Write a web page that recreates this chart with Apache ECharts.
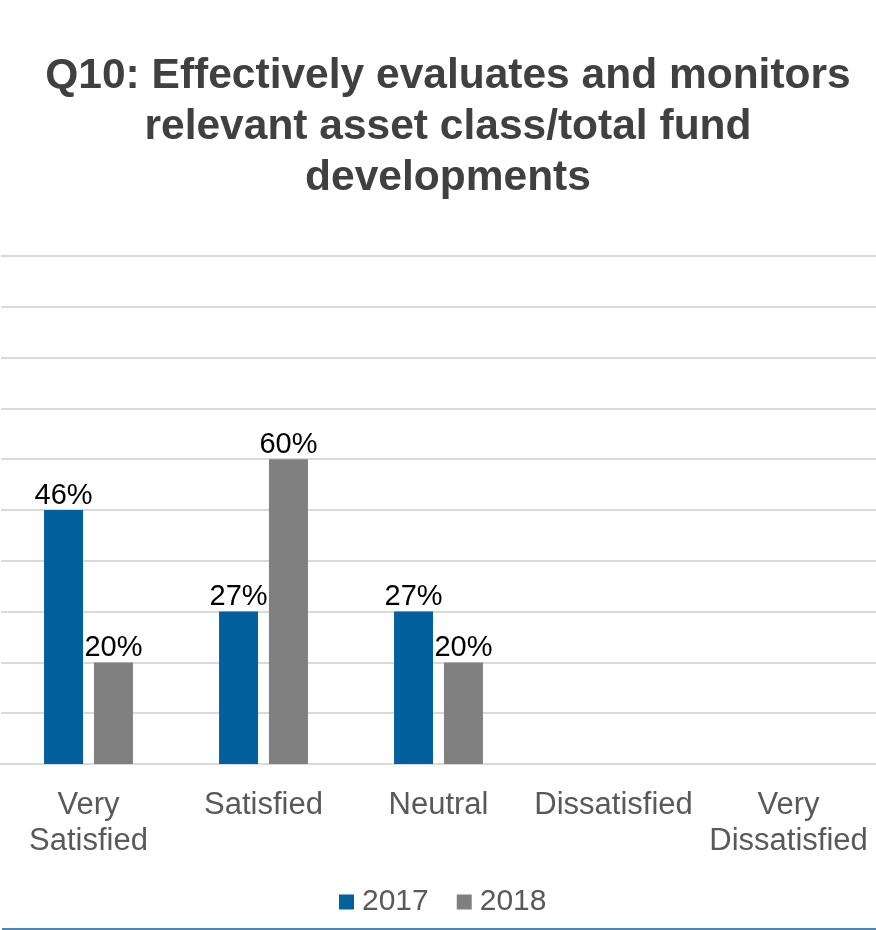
<!DOCTYPE html>
<html>
<head>
<meta charset="utf-8">
<script src="https://cdn.jsdelivr.net/npm/echarts@6/dist/echarts.min.js"></script>
<style>
html,body{margin:0;padding:0;background:#fff;}
#chart{width:876px;height:930px;}
</style>
</head>
<body>
<div id="chart"></div>
<script>
const titleText = 'Q10: Effectively evaluates and monitors\nrelevant asset class/total fund\ndevelopments';
const categories = ['Very\nSatisfied', 'Satisfied', 'Neutral', 'Dissatisfied', 'Very\nDissatisfied'];
const seriesNames = ['2017', '2018'];
// bar heights as drawn against the 0–100% gridlines
const values2017 = [50, 30, 30, null, null];
const values2018 = [20, 60, 20, null, null];
// data label texts as printed on the bars
const labels2017 = ['46%', '27%', '27%', '', ''];
const labels2018 = ['20%', '60%', '20%', '', ''];
const yTicks = [0, 100, 10]; // min, max, interval

const FONT = '"Liberation Sans", Arial, sans-serif';
const chart = echarts.init(document.getElementById('chart'), null, {renderer: 'canvas'});

function labelCfg(texts) {
  return {
    show: true,
    position: 'top',
    distance: 0,
    fontFamily: FONT,
    fontSize: 29,
    color: '#000000',
    formatter: p => texts[p.dataIndex]
  };
}

chart.setOption({
  backgroundColor: '#ffffff',
  animation: false,
  title: {
    text: titleText,
    left: 448,
    textAlign: 'center',
    top: 51,
    padding: 0,
    textStyle: {
      fontFamily: FONT,
      fontSize: 42.5,
      fontWeight: 'bold',
      color: '#404040',
      lineHeight: 51
    }
  },
  legend: {
    data: seriesNames,
    left: 339,
    top: 887,
    padding: 0,
    itemWidth: 15,
    itemHeight: 15,
    itemGap: 28,
    icon: 'rect',
    textStyle: {
      fontFamily: FONT,
      fontSize: 30,
      color: '#595959',
      padding: [0, 0, 0, 3]
    }
  },
  grid: {
    left: 1,
    right: 0,
    top: 256,
    bottom: 166,
    containLabel: false
  },
  xAxis: {
    type: 'category',
    data: categories,
    axisLine: {show: true, lineStyle: {color: '#d9d9d9', width: 2}},
    axisTick: {show: false},
    axisLabel: {
      fontFamily: FONT,
      fontSize: 31,
      color: '#595959',
      lineHeight: 36,
      margin: 23,
      interval: 0
    }
  },
  yAxis: {
    type: 'value',
    min: yTicks[0],
    max: yTicks[1],
    interval: yTicks[2],
    axisLabel: {show: false},
    axisLine: {show: false},
    axisTick: {show: false},
    splitLine: {show: true, lineStyle: {color: '#d9d9d9', width: 2}}
  },
  series: [
    {
      name: seriesNames[0],
      type: 'bar',
      data: values2017,
      barWidth: 39,
      barGap: '28%',
      itemStyle: {color: '#00619c'},
      label: labelCfg(labels2017)
    },
    {
      name: seriesNames[1],
      type: 'bar',
      data: values2018,
      barWidth: 39,
      barGap: '28%',
      itemStyle: {color: '#808080'},
      label: labelCfg(labels2018)
    }
  ],
  graphic: [
    {
      type: 'rect',
      left: 2,
      top: 928,
      shape: {width: 874, height: 2},
      style: {fill: '#4a86b4'},
      silent: true
    }
  ]
});
</script>
</body>
</html>
